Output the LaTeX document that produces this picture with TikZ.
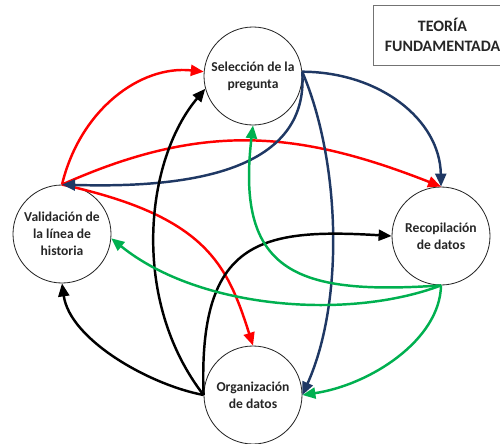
\documentclass[tikz,border=0pt]{standalone}
\usepackage{fontspec}
\setmainfont{Carlito}
\usetikzlibrary{arrows.meta}
\definecolor{linkred}{RGB}{255,0,0}
\definecolor{linknavy}{RGB}{31,56,100}
\definecolor{linkgreen}{RGB}{0,176,80}
\tikzset{
  stage/.style={circle, draw=black!85, line width=0.7pt, minimum size=2.94cm, inner sep=0pt,
    align=center, text=black!85, font=\fontsize{11.6}{14.5}\selectfont\bfseries},
  link/.style={line width=2.1pt, -{Triangle[length=3.9mm,width=3.3mm]}},
  titlebox/.style={draw=black!55, line width=0.7pt, minimum width=4.17cm, minimum height=1.8cm,
    align=center, text=black!85, font=\fontsize{13.6}{17}\selectfont\bfseries}
}
\begin{document}
\begin{tikzpicture}[x=0.03cm,y=-0.03cm]
            \useasboundingbox (0,0) rectangle (500,443);
            \node[titlebox] (title) at (442.5,35) {TEORÍA\\FUNDAMENTADA};
            \node[stage] (sel) at (253,76) {Selección de la\\pregunta};
            \node[stage] (val) at (62,234) {Validación de\\la línea de\\historia};
            \node[stage] (rec) at (441,236) {Recopilación\\de datos};
            \node[stage] (org) at (253,395) {Organización\\de datos};
            \draw[link, linkred] (val.north) .. controls (80,110) and (140,65) .. (sel.175);
            \draw[link, linkred] (val.north) .. controls (202,122) and (297,130) .. (rec.north);
            \draw[link, linkred] (val.north) .. controls (206,216) and (227,264) .. (org.north);
            \draw[link, linknavy] (sel.5) .. controls (380,72) and (440,120) .. (rec.north);
            \draw[link, linknavy] (sel.5) .. controls (310,175) and (180,188) .. (val.north);
            \draw[link, linknavy] (sel.5) .. controls (340,160) and (345,300) .. (org.east);
            \draw[link] (org.west) .. controls (150,385) and (70,340) .. (val.south);
            \draw[link] (org.west) .. controls (130,300) and (145,160) .. (sel.195);
            \draw[link] (org.west) .. controls (198,240) and (260,228) .. (rec.west);
            \draw[link, linkgreen] (rec.south) .. controls (300,295) and (235,275) .. (sel.south);
            \draw[link, linkgreen] (rec.south) .. controls (350,320) and (200,310) .. (val.355);
            \draw[link, linkgreen] (rec.south) .. controls (440,340) and (370,385) .. (org.east);
        \end{tikzpicture}
\end{document}
